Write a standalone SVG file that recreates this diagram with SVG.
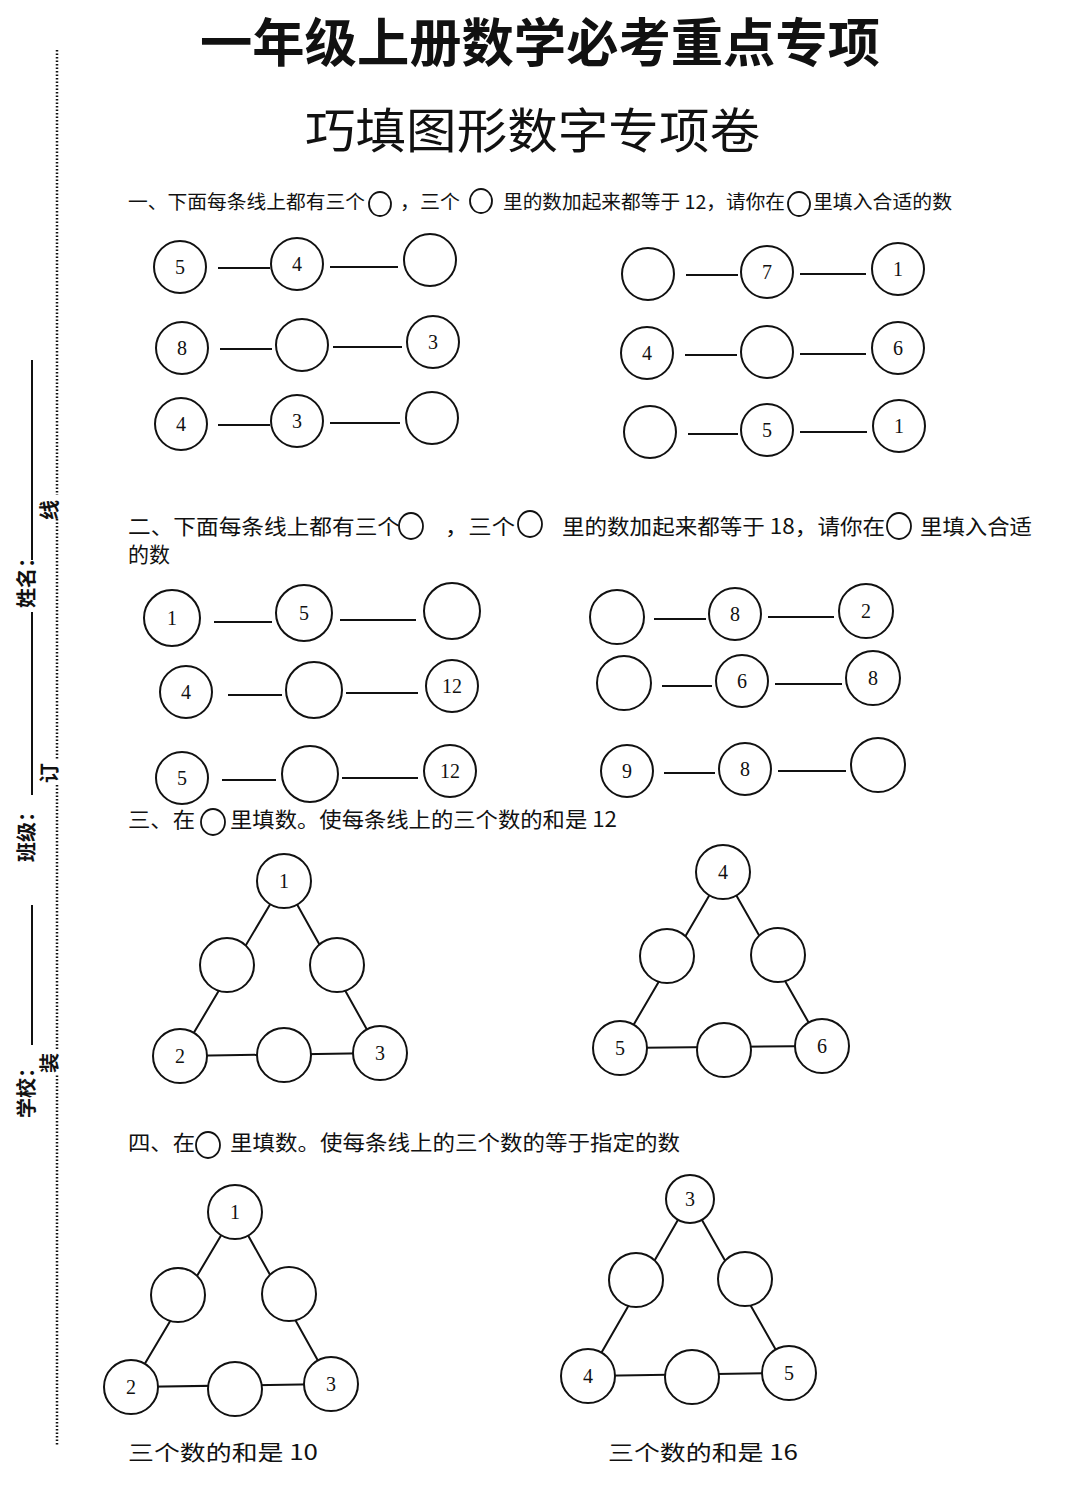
<svg xmlns="http://www.w3.org/2000/svg" width="1080" height="1488" viewBox="0 0 1080 1488">
<style>
text{font-family:"Noto Sans CJK SC","Liberation Serif",serif;fill:#111}
.n{font-family:"Liberation Serif",serif;font-size:20px;text-anchor:middle;dominant-baseline:central}
.c{fill:#fff;stroke:#111;stroke-width:2}
.l{stroke:#111;stroke-width:2;fill:none}
.q{font-size:19px}
.q2{font-size:21px}
.sc{fill:none;stroke:#111;stroke-width:1.8}
</style>
<rect width="1080" height="1488" fill="#fff"/>
<text x="200" y="62" font-size="52" font-weight="bold" textLength="680" lengthAdjust="spacingAndGlyphs">一年级上册数学必考重点专项</text>
<text x="305" y="148" font-size="48" textLength="455" lengthAdjust="spacingAndGlyphs">巧填图形数字专项卷</text>
<g id="margin">
<line x1="57" y1="50" x2="57" y2="1445" stroke="#111" stroke-width="2.5" stroke-dasharray="1.5 2"/>
<g class="l"><line x1="32" y1="360" x2="32" y2="560"/><line x1="32" y1="612" x2="32" y2="795"/><line x1="32" y1="905" x2="32" y2="1045"/></g>
<g font-size="20" font-weight="bold">
<text transform="translate(34,608) rotate(-90)">姓名：</text>
<text transform="translate(34,862) rotate(-90)">班级：</text>
<text transform="translate(34,1118) rotate(-90)">学校：</text>
<rect x="44" y="495" width="20" height="24" fill="#fff"/><text transform="translate(57,520) rotate(-90)">线</text>
<rect x="44" y="760" width="20" height="24" fill="#fff"/><text transform="translate(57,783) rotate(-90)">订</text>
<rect x="44" y="1050" width="20" height="24" fill="#fff"/><text transform="translate(57,1073) rotate(-90)">装</text>
</g>
</g>
<g id="q1">
<text class="q" x="128" y="209" textLength="237" lengthAdjust="spacingAndGlyphs">一、下面每条线上都有三个</text>
<ellipse class="sc" cx="380" cy="204" rx="11" ry="12"/>
<text class="q" x="400" y="209" textLength="60" lengthAdjust="spacingAndGlyphs">，三个</text>
<ellipse class="sc" cx="481" cy="201" rx="11" ry="12"/>
<text class="q" x="503" y="209" textLength="282" lengthAdjust="spacingAndGlyphs">里的数加起来都等于 12，请你在</text>
<ellipse class="sc" cx="799" cy="204" rx="11" ry="12"/>
<text class="q" x="813" y="209" textLength="139" lengthAdjust="spacingAndGlyphs">里填入合适的数</text>
</g>
<g id="connectors" class="l">
<line x1="218" y1="268" x2="270" y2="268"/><line x1="330" y1="267" x2="398" y2="267"/>
<line x1="220" y1="349" x2="272" y2="349"/><line x1="333" y1="347" x2="402" y2="347"/>
<line x1="218" y1="425" x2="270" y2="425"/><line x1="330" y1="423" x2="400" y2="423"/>
<line x1="686" y1="275" x2="738" y2="275"/><line x1="800" y1="274" x2="866" y2="274"/>
<line x1="685" y1="355" x2="737" y2="355"/><line x1="800" y1="354" x2="866" y2="354"/>
<line x1="688" y1="434" x2="738" y2="434"/><line x1="800" y1="432" x2="867" y2="432"/>
<line x1="214" y1="622" x2="272" y2="622"/><line x1="340" y1="620" x2="416" y2="620"/>
<line x1="228" y1="695" x2="282" y2="695"/><line x1="346" y1="693" x2="418" y2="693"/>
<line x1="222" y1="780" x2="276" y2="780"/><line x1="342" y1="778" x2="418" y2="778"/>
<line x1="654" y1="619" x2="706" y2="619"/><line x1="768" y1="617" x2="834" y2="617"/>
<line x1="662" y1="686" x2="712" y2="686"/><line x1="775" y1="684" x2="842" y2="684"/>
<line x1="664" y1="773" x2="715" y2="773"/><line x1="778" y1="771" x2="846" y2="771"/>
<polygon points="284,881 180,1056 380,1053"/>
<polygon points="723,872 620,1048 822,1046"/>
<polygon points="235,1212 131,1387 331,1384"/>
<polygon points="690,1199 588,1376 789,1373"/>
</g>
<g id="row-1L"><circle class="c" cx="180" cy="267" r="26"/><text class="n" x="180" y="267">5</text><circle class="c" cx="297" cy="264" r="26"/><text class="n" x="297" y="264">4</text><circle class="c" cx="430" cy="260" r="26"/></g>
<g id="row-2L"><circle class="c" cx="182" cy="348" r="26"/><text class="n" x="182" y="348">8</text><circle class="c" cx="302" cy="345" r="26"/><circle class="c" cx="433" cy="342" r="26"/><text class="n" x="433" y="342">3</text></g>
<g id="row-3L"><circle class="c" cx="181" cy="424" r="26"/><text class="n" x="181" y="424">4</text><circle class="c" cx="297" cy="421" r="26"/><text class="n" x="297" y="421">3</text><circle class="c" cx="432" cy="418" r="26"/></g>
<g id="row-1R"><circle class="c" cx="648" cy="274" r="26"/><circle class="c" cx="767" cy="272" r="26"/><text class="n" x="767" y="272">7</text><circle class="c" cx="898" cy="269" r="26"/><text class="n" x="898" y="269">1</text></g>
<g id="row-2R"><circle class="c" cx="647" cy="353" r="26"/><text class="n" x="647" y="353">4</text><circle class="c" cx="767" cy="352" r="26"/><circle class="c" cx="898" cy="348" r="26"/><text class="n" x="898" y="348">6</text></g>
<g id="row-3R"><circle class="c" cx="650" cy="432" r="26"/><circle class="c" cx="767" cy="430" r="26"/><text class="n" x="767" y="430">5</text><circle class="c" cx="899" cy="426" r="26"/><text class="n" x="899" y="426">1</text></g>
<g id="q2">
<text class="q2" x="128" y="534" textLength="272" lengthAdjust="spacingAndGlyphs">二、下面每条线上都有三个</text>
<ellipse class="sc" cx="411" cy="526" rx="12" ry="13"/>
<text class="q2" x="445" y="534" textLength="70" lengthAdjust="spacingAndGlyphs">，三个</text>
<ellipse class="sc" cx="530" cy="524" rx="12" ry="13"/>
<text class="q2" x="562" y="534" textLength="323" lengthAdjust="spacingAndGlyphs">里的数加起来都等于 18，请你在</text>
<ellipse class="sc" cx="899" cy="526" rx="12" ry="13"/>
<text class="q2" x="920" y="534" textLength="112" lengthAdjust="spacingAndGlyphs">里填入合适</text>
<text class="q2" x="128" y="562">的数</text>
</g>
<g id="row-4L"><circle class="c" cx="172" cy="618" r="28"/><text class="n" x="172" y="618">1</text><circle class="c" cx="304" cy="613" r="28"/><text class="n" x="304" y="613">5</text><circle class="c" cx="452" cy="611" r="28"/></g>
<g id="row-5L"><circle class="c" cx="186" cy="692" r="26"/><text class="n" x="186" y="692">4</text><circle class="c" cx="314" cy="690" r="28"/><circle class="c" cx="452" cy="686" r="26"/><text class="n" x="452" y="686" font-size="16">12</text></g>
<g id="row-6L"><circle class="c" cx="182" cy="778" r="26"/><text class="n" x="182" y="778">5</text><circle class="c" cx="310" cy="774" r="28"/><circle class="c" cx="450" cy="771" r="26"/><text class="n" x="450" y="771" font-size="16">12</text></g>
<g id="row-4R"><circle class="c" cx="617" cy="617" r="27"/><circle class="c" cx="735" cy="614" r="26"/><text class="n" x="735" y="614">8</text><circle class="c" cx="866" cy="611" r="27"/><text class="n" x="866" y="611">2</text></g>
<g id="row-5R"><circle class="c" cx="624" cy="683" r="27"/><circle class="c" cx="742" cy="681" r="26"/><text class="n" x="742" y="681">6</text><circle class="c" cx="873" cy="678" r="27"/><text class="n" x="873" y="678" font-size="17">8</text></g>
<g id="row-6R"><circle class="c" cx="627" cy="771" r="26"/><text class="n" x="627" y="771">9</text><circle class="c" cx="745" cy="769" r="26"/><text class="n" x="745" y="769">8</text><circle class="c" cx="878" cy="765" r="27"/></g>
<g id="q3">
<text class="q2" x="128" y="827" textLength="67" lengthAdjust="spacingAndGlyphs">三、在</text>
<ellipse class="sc" cx="213" cy="822" rx="12" ry="13"/>
<text class="q2" x="230" y="827" textLength="387" lengthAdjust="spacingAndGlyphs">里填数。使每条线上的三个数的和是 12</text>
</g>
<g id="tri-1">
<circle class="c" cx="284" cy="881" r="27"/><text class="n" x="284" y="881">1</text>
<circle class="c" cx="227" cy="965" r="27"/><circle class="c" cx="337" cy="965" r="27"/>
<circle class="c" cx="180" cy="1056" r="27"/><text class="n" x="180" y="1056">2</text>
<circle class="c" cx="284" cy="1055" r="27"/>
<circle class="c" cx="380" cy="1053" r="27"/><text class="n" x="380" y="1053">3</text>
</g>
<g id="tri-2">
<circle class="c" cx="723" cy="872" r="27"/><text class="n" x="723" y="872">4</text>
<circle class="c" cx="667" cy="956" r="27"/><circle class="c" cx="778" cy="955" r="27"/>
<circle class="c" cx="620" cy="1048" r="27"/><text class="n" x="620" y="1048">5</text>
<circle class="c" cx="724" cy="1050" r="27"/>
<circle class="c" cx="822" cy="1046" r="27"/><text class="n" x="822" y="1046">6</text>
</g>
<g id="q4">
<text class="q2" x="128" y="1150" textLength="67" lengthAdjust="spacingAndGlyphs">四、在</text>
<ellipse class="sc" cx="208" cy="1145" rx="12" ry="13"/>
<text class="q2" x="230" y="1150" textLength="450" lengthAdjust="spacingAndGlyphs">里填数。使每条线上的三个数的等于指定的数</text>
</g>
<g id="tri-3">
<circle class="c" cx="235" cy="1212" r="27"/><text class="n" x="235" y="1212">1</text>
<circle class="c" cx="178" cy="1295" r="27"/><circle class="c" cx="289" cy="1294" r="27"/>
<circle class="c" cx="131" cy="1387" r="27"/><text class="n" x="131" y="1387">2</text>
<circle class="c" cx="235" cy="1389" r="27"/>
<circle class="c" cx="331" cy="1384" r="27"/><text class="n" x="331" y="1384">3</text>
<text class="q2" x="128" y="1460" font-size="23" textLength="190" lengthAdjust="spacingAndGlyphs">三个数的和是 10</text>
</g>
<g id="tri-4">
<circle class="c" cx="690" cy="1199" r="24"/><text class="n" x="690" y="1199">3</text>
<circle class="c" cx="636" cy="1280" r="27"/><circle class="c" cx="745" cy="1279" r="27"/>
<circle class="c" cx="588" cy="1376" r="27"/><text class="n" x="588" y="1376">4</text>
<circle class="c" cx="692" cy="1377" r="27"/>
<circle class="c" cx="789" cy="1373" r="27"/><text class="n" x="789" y="1373">5</text>
<text class="q2" x="608" y="1460" font-size="23" textLength="190" lengthAdjust="spacingAndGlyphs">三个数的和是 16</text>
</g>
</svg>
